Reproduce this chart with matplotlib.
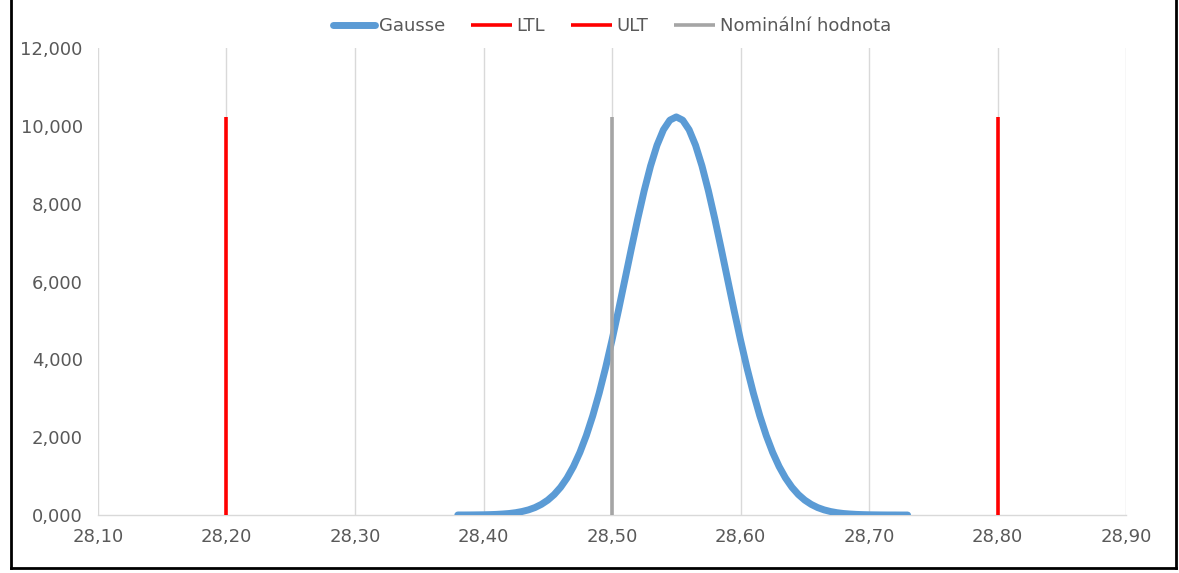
import matplotlib.pyplot as plt
from matplotlib.lines import Line2D
from matplotlib.ticker import FuncFormatter, MultipleLocator

# Gauss curve samples (x in mm, y = density)
gauss_x = [28.380, 28.385, 28.390, 28.395, 28.400, 28.405, 28.410, 28.415, 28.420, 28.425,
           28.430, 28.435, 28.440, 28.445, 28.450, 28.455, 28.460, 28.465, 28.470, 28.475,
           28.480, 28.485, 28.490, 28.495, 28.500, 28.505, 28.510, 28.515, 28.520, 28.525,
           28.530, 28.535, 28.540, 28.545, 28.550, 28.555, 28.560, 28.565, 28.570, 28.575,
           28.580, 28.585, 28.590, 28.595, 28.600, 28.605, 28.610, 28.615, 28.620, 28.625,
           28.630, 28.635, 28.640, 28.645, 28.650, 28.655, 28.660, 28.665, 28.670, 28.675,
           28.680, 28.685, 28.690, 28.695, 28.700, 28.705, 28.710, 28.715, 28.720, 28.725,
           28.730]
gauss_y = [0.001, 0.001, 0.002, 0.004, 0.006, 0.010, 0.016, 0.026, 0.039, 0.060,
           0.090, 0.132, 0.191, 0.273, 0.382, 0.526, 0.713, 0.951, 1.247, 1.609,
           2.042, 2.550, 3.131, 3.783, 4.496, 5.255, 6.045, 6.837, 7.607, 8.330,
           8.970, 9.501, 9.899, 10.146, 10.230, 10.146, 9.899, 9.501, 8.970, 8.330,
           7.607, 6.837, 6.045, 5.255, 4.496, 3.783, 3.131, 2.550, 2.042, 1.609,
           1.247, 0.951, 0.713, 0.526, 0.382, 0.273, 0.191, 0.132, 0.090, 0.060,
           0.039, 0.026, 0.016, 0.010, 0.006, 0.004, 0.002, 0.001, 0.001, 0.000,
           0.000]

# Tolerance limits and nominal value
ltl = 28.20
ult = 28.80
nominal = 28.50
line_top = 10.230

fig = plt.figure(figsize=(11.79, 5.73), dpi=100)
ax = fig.add_axes([0.0831, 0.1012, 0.8720, 0.8150])

ax.plot(gauss_x, gauss_y, color='#5B9BD5', lw=5.0, solid_capstyle='round',
        solid_joinstyle='round', label='Gausse', zorder=3)
ax.plot([ltl, ltl], [0, line_top], color='#FF0000', lw=2.6, solid_capstyle='butt', label='LTL', zorder=4)
ax.plot([ult, ult], [0, line_top], color='#FF0000', lw=2.6, solid_capstyle='butt', label='ULT', zorder=4)
ax.plot([nominal, nominal], [0, line_top], color='#A5A5A5', lw=2.6, solid_capstyle='butt',
        label='Nominální hodnota', zorder=5)

ax.set_xlim(28.10, 28.90)
ax.set_ylim(0, 12)
ax.xaxis.set_major_locator(MultipleLocator(0.1))
ax.yaxis.set_major_locator(MultipleLocator(2))
ax.xaxis.set_major_formatter(FuncFormatter(lambda v, p: f'{v:.2f}'.replace('.', ',')))
ax.yaxis.set_major_formatter(FuncFormatter(lambda v, p: f'{v:.3f}'.replace('.', ',')))

ax.grid(axis='x', color='#D9D9D9', lw=1)
ax.set_axisbelow(True)
for side in ['top', 'right', 'left']:
    ax.spines[side].set_visible(False)
ax.spines['bottom'].set_color('#D9D9D9')
ax.spines['bottom'].set_linewidth(1)
ax.tick_params(axis='both', length=0, labelsize=13, labelcolor='#595959')
ax.tick_params(axis='x', pad=9)
ax.tick_params(axis='y', pad=11)

leg = ax.legend(loc='lower center', bbox_to_anchor=(0.5, 1.0), ncol=4, frameon=False,
                fontsize=13, handlelength=2.3, handletextpad=0.25, columnspacing=1.4,
                borderaxespad=0.3)
for t in leg.get_texts():
    t.set_color('#595959')

# frame around the chart (left, right and bottom)
fig.add_artist(Line2D([0.0093, 0.0093], [0.0087, 1.0], transform=fig.transFigure, color='black', lw=2))
fig.add_artist(Line2D([0.9975, 0.9975], [0.0087, 1.0], transform=fig.transFigure, color='black', lw=2))
fig.add_artist(Line2D([0.0093, 0.9975], [0.0087, 0.0087], transform=fig.transFigure, color='black', lw=2))

fig.savefig('out.png', dpi=100)
